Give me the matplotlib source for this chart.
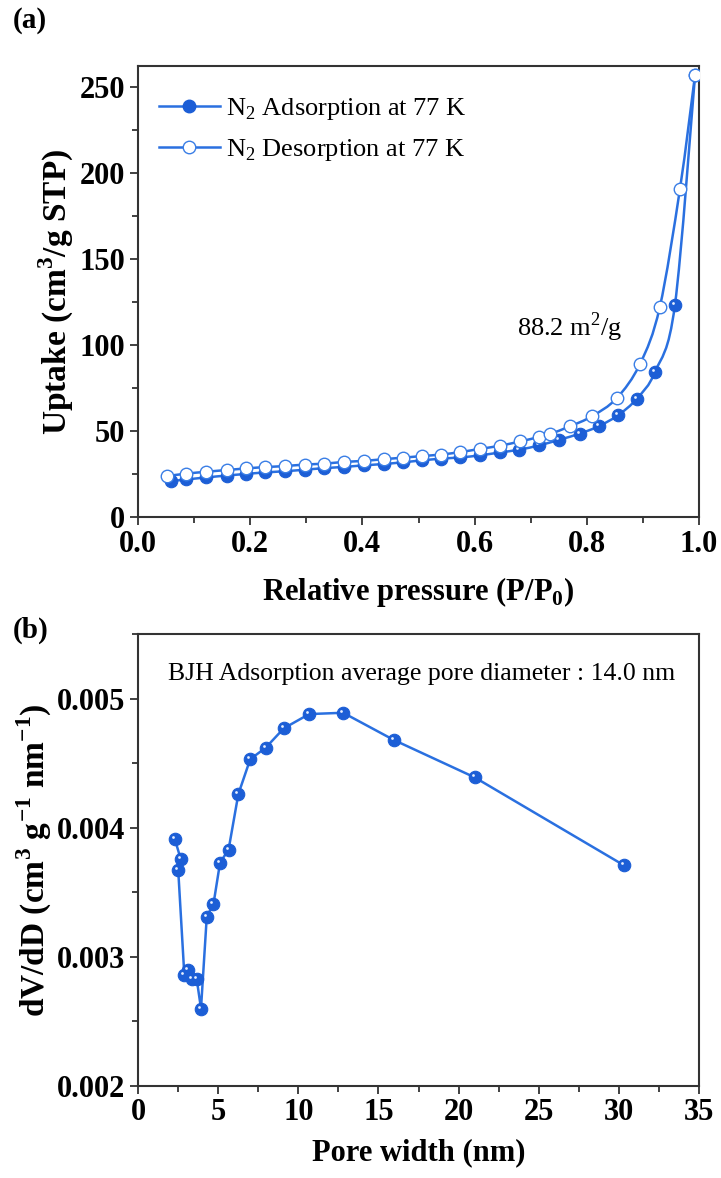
import numpy as np
import matplotlib
matplotlib.use("Agg")
import matplotlib.pyplot as plt
from matplotlib.path import Path
from matplotlib.patches import PathPatch
from matplotlib.lines import Line2D
from matplotlib.markers import MarkerStyle
from matplotlib.ticker import MultipleLocator, FormatStrFormatter

plt.rcParams['font.family'] = ['Liberation Serif', 'DejaVu Serif']
plt.rcParams['mathtext.fontset'] = 'custom'
plt.rcParams['mathtext.rm'] = 'Liberation Serif'
plt.rcParams['mathtext.bf'] = 'Liberation Serif:bold'

# ---------------- data (a) ----------------
ads_p = [0.058, 0.086, 0.122, 0.158, 0.192, 0.226, 0.262, 0.298, 0.332, 0.367,
         0.402, 0.438, 0.473, 0.506, 0.540, 0.574, 0.609, 0.645, 0.679, 0.715,
         0.751, 0.787, 0.821, 0.856, 0.889, 0.922, 0.957, 0.993]
ads_v = [20.8, 21.8, 23.0, 24.1, 25.0, 25.9, 26.6, 27.5, 28.4, 29.1,
         30.0, 30.8, 31.8, 32.9, 33.9, 34.6, 35.8, 37.5, 39.1, 41.6,
         44.9, 48.4, 52.7, 59.2, 68.7, 84.5, 123.0, 257.0]

des_p = [0.052, 0.086, 0.122, 0.158, 0.192, 0.226, 0.262, 0.298, 0.332, 0.367,
         0.402, 0.438, 0.473, 0.506, 0.540, 0.574, 0.610, 0.645, 0.681, 0.715,
         0.734, 0.770, 0.809, 0.853, 0.895, 0.930, 0.966, 0.993]
des_v = [23.8, 25.2, 26.3, 27.3, 28.2, 29.0, 29.6, 30.5, 31.0, 32.0,
         32.6, 33.6, 34.5, 35.4, 36.3, 37.7, 39.6, 41.4, 43.9, 46.5,
         48.2, 52.7, 58.5, 68.9, 89.0, 121.8, 190.5, 257.0]

# ---------------- data (b) ----------------
pore_w = [2.30, 2.66, 2.51, 2.89, 3.14, 3.35, 3.66, 3.93, 4.29, 4.71, 5.12,
          5.65, 6.26, 7.00, 7.97, 9.10, 10.68, 12.80, 15.95, 21.00, 30.30]
dvdd = [0.00391, 0.00376, 0.00367, 0.00286, 0.00290, 0.00283, 0.00283,
        0.00260, 0.00331, 0.00341, 0.00373, 0.00383, 0.00426, 0.00453,
        0.00462, 0.00477, 0.00488, 0.00489, 0.00468, 0.00439, 0.00371]

LINE = '#2a70e0'
FILL = '#1c5ed6'
EDGE = '#3a7ee6'

# highlight marker: small dot at upper-left of the sphere
th = np.linspace(0, 2 * np.pi, 40)
hl_verts = np.column_stack([-0.16 + 0.11 * np.cos(th), 0.16 + 0.11 * np.sin(th)])
hl_verts = np.vstack([hl_verts, [[0.5, -0.5]]])  # anchor so that scale is 1
codes = [Path.MOVETO] + [Path.LINETO] * (len(th) - 2) + [Path.CLOSEPOLY] + [Path.MOVETO]
HL = MarkerStyle(Path(hl_verts, codes))


def smooth_curve(x, y):
    """Catmull-Rom style Bezier path through the given points."""
    P = np.column_stack([x, y]).astype(float)
    verts = [P[0]]
    cds = [Path.MOVETO]
    n = len(P)
    for i in range(n - 1):
        p0 = P[i - 1] if i > 0 else P[i]
        p1 = P[i]
        p2 = P[i + 1]
        p3 = P[i + 2] if i + 2 < n else P[i + 1]
        verts += [p1 + (p2 - p0) / 6.0, p2 - (p3 - p1) / 6.0, p2]
        cds += [Path.CURVE4] * 3
    return Path(np.array(verts), cds)


fig = plt.figure(figsize=(7.21, 11.78), dpi=100)
axa = fig.add_axes([0.1914, 0.5611, 0.9695 - 0.1914, 0.944 - 0.5611])
axb = fig.add_axes([0.1914, 0.0781, 0.9695 - 0.1914, 0.4618 - 0.0781])

ms = 9
# adsorption
axa.add_patch(PathPatch(smooth_curve(ads_p, ads_v), fill=False,
                        edgecolor=LINE, lw=1.8, zorder=2))
axa.plot(ads_p, ads_v, ls='none', marker='o', ms=ms,
         mfc=FILL, mec=FILL, mew=0.8, zorder=3)
axa.plot(ads_p, ads_v, ls='none', marker=HL, ms=ms, mfc='#e6efff',
         mec='none', zorder=4)
# desorption
axa.add_patch(PathPatch(smooth_curve(des_p, des_v), fill=False,
                        edgecolor=LINE, lw=1.8, zorder=2))
axa.plot(des_p, des_v, ls='none', marker='o', ms=ms,
         mfc='white', mec=EDGE, mew=1.0, zorder=5)

axa.set_xlim(0, 1.0)
axa.set_ylim(0, 262)
axa.xaxis.set_major_locator(MultipleLocator(0.2))
axa.xaxis.set_minor_locator(MultipleLocator(0.1))
axa.yaxis.set_major_locator(MultipleLocator(50))
axa.yaxis.set_minor_locator(MultipleLocator(25))
axa.xaxis.set_major_formatter(FormatStrFormatter('%.1f'))
axa.set_xlabel(r'Relative pressure (P/P$_\mathbf{0}$)', fontsize=22,
               fontweight='bold', labelpad=12)
axa.set_ylabel(r'Uptake (cm$^\mathbf{3}$/g STP)', fontsize=24,
               fontweight='bold', labelpad=3)
axa.text(0.77, 110, r'88.2 m$^2$/g', fontsize=19, ha='center', va='center')

h_ads = Line2D([], [], color=LINE, lw=1.8, marker='o', ms=ms, mfc=FILL,
               mec=FILL)
h_des = Line2D([], [], color=LINE, lw=1.8, marker='o', ms=ms, mfc='white',
               mec=EDGE)
leg = axa.legend([h_ads, h_des],
                 [r'N$_2$ Adsorption at 77 K', r'N$_2$ Desorption at 77 K'],
                 loc='upper left', bbox_to_anchor=(-0.005, 0.985), frameon=False,
                 fontsize=19, handlelength=2.3, handletextpad=0.25,
                 labelspacing=0.55, borderaxespad=0.5)

# panel b
axb.plot(pore_w, dvdd, '-', color=LINE, lw=1.8, marker='o', ms=ms,
         mfc=FILL, mec=FILL, mew=0.8, zorder=3)
axb.plot(pore_w, dvdd, ls='none', marker=HL, ms=ms, mfc='#e6efff',
         mec='none', zorder=4)
axb.set_xlim(0, 35)
axb.set_ylim(0.002, 0.0055)
axb.xaxis.set_major_locator(MultipleLocator(5))
axb.xaxis.set_minor_locator(MultipleLocator(2.5))
axb.yaxis.set_major_locator(MultipleLocator(0.001))
axb.yaxis.set_minor_locator(MultipleLocator(0.0005))
axb.yaxis.set_major_formatter(FormatStrFormatter('%.3f'))
axb.set_xlabel('Pore width (nm)', fontsize=22, fontweight='bold', labelpad=8)
axb.set_ylabel(r'dV/dD (cm$^\mathbf{3}$ g$^\mathbf{-1}$ nm$^\mathbf{-1}$)',
               fontsize=24, fontweight='bold', labelpad=2)
axb.text(17.7, 0.00519, 'BJH Adsorption average pore diameter : 14.0 nm',
         fontsize=18.5, ha='center', va='center')

for ax in (axa, axb):
    for s in ax.spines.values():
        s.set_linewidth(1.5)
        s.set_color('#333333')
    ax.tick_params(which='both', direction='out', top=False, right=False,
                   width=1.3, color='#333333')
    ax.tick_params(which='major', length=6, labelsize=22, pad=3)
    ax.tick_params(which='minor', length=4)
    for lab in ax.get_xticklabels() + ax.get_yticklabels():
        lab.set_fontweight('bold')

fig.text(0.018, 0.983, '(a)', fontsize=21, fontweight='bold', va='center')
fig.text(0.018, 0.465, '(b)', fontsize=21, fontweight='bold', va='center')

fig.savefig('out.png', dpi=100)
